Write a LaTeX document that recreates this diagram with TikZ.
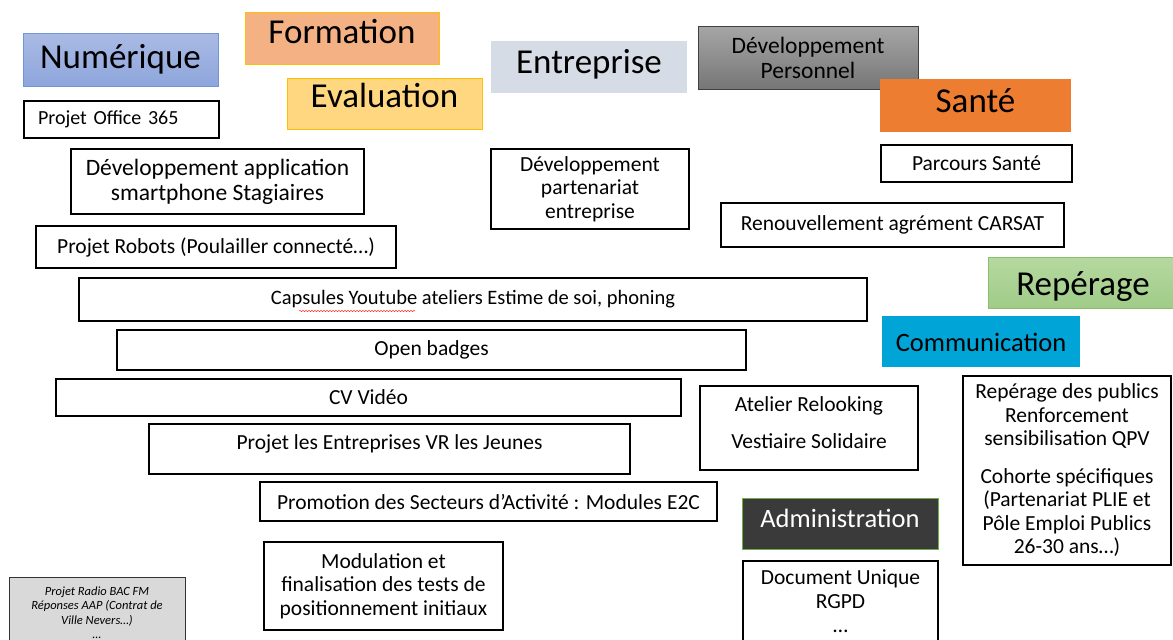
\documentclass[tikz,border=0pt]{standalone}
\usepackage{fontspec}
\setmainfont{Carlito}
\usetikzlibrary{decorations.pathmorphing}
\definecolor{bleuhaut}{RGB}{170,186,228}
\definecolor{bleubas}{RGB}{142,166,220}
\definecolor{bleubord}{RGB}{114,148,212}
\definecolor{saumon}{RGB}{244,177,131}
\definecolor{jaune}{RGB}{255,215,128}
\definecolor{orbord}{RGB}{255,192,0}
\definecolor{grisbleu}{RGB}{214,220,229}
\definecolor{grishaut}{RGB}{166,166,166}
\definecolor{grisbas}{RGB}{118,118,118}
\definecolor{orange}{RGB}{237,125,49}
\definecolor{verthaut}{RGB}{182,216,160}
\definecolor{vertbas}{RGB}{160,204,136}
\definecolor{vertbord}{RGB}{141,192,108}
\definecolor{cyan}{RGB}{0,164,214}
\definecolor{anthracite}{RGB}{58,58,58}
\definecolor{vertadmin}{RGB}{112,173,71}
\definecolor{grisclair}{RGB}{217,217,217}
\newcommand\fonttitre{\fontsize{35}{40}\selectfont}
\newcommand\fontmoyen{\fontsize{26.5}{30}\selectfont}
\newcommand\fontcorps{\fontsize{21.5}{23.5}\selectfont}
\newcommand\fontappli{\fontsize{23.5}{25}\selectfont}
\newcommand\fontpetit{\fontsize{12.5}{14.5}\selectfont}

\begin{document}
\begin{tikzpicture}[x=1pt,y=-1pt,
    titre/.style={inner sep=0pt, align=center, text=black, font=\fonttitre, text height=#1, text depth=12pt},
    titre/.default=24pt,
    boite/.style={draw=black, line width=1.3pt, fill=white, inner sep=2pt, align=center, font=\fontcorps}]
  \clip (0,0) rectangle (1173,640);
  \fill[white] (0,0) rectangle (1173,640);
  % categories
  \node[titre=29pt, top color=bleuhaut, bottom color=bleubas, draw=bleubord, line width=0.8pt, minimum width=195, minimum height=53] (num) at (120.5,59.5) {Numérique};
  \node[titre=22pt, fill=saumon, draw=orbord, line width=0.8pt, minimum width=194, minimum height=52] (form) at (342,38) {Formation};
  \node[titre=19pt, fill=jaune, draw=orbord, line width=0.8pt, minimum width=195, minimum height=51] (eval) at (384.5,103.5) {Evaluation};
  \node[titre=24pt, fill=grisbleu, minimum width=196, minimum height=52] (entr) at (589,67) {Entreprise};
  \node[inner sep=0pt, align=center, top color=grishaut, bottom color=grisbas, draw=black!75, line width=1pt, font=\fontappli, minimum width=220, minimum height=63] (perso) at (808,57.5) {Développement\\Personnel};
  \node[titre=25pt, fill=orange, minimum width=191, minimum height=53] (sante) at (975.5,105.5) {Santé};
  \node[titre=37pt, top color=verthaut, bottom color=vertbas, draw=vertbord, line width=0.8pt, minimum width=190, minimum height=51] (rep) at (1083,282.5) {Repérage};
  \node[titre=32pt, fill=cyan, font=\fontmoyen, minimum width=198, minimum height=51] (comm) at (981,341.5) {Communication};
  \node[titre=20pt, fill=anthracite, draw=vertadmin, line width=1pt, text=white, font=\fontmoyen, minimum width=196, minimum height=51] (admin) at (840,523.5) {Administration};
  % projets
  \node[boite, align=left, inner xsep=14pt, text width=167, minimum height=37, font=\fontsize{20}{22}\selectfont] (office) at (121.5,119.5) {Projet Office 365};
  \node[boite, font=\fontappli, minimum width=293, minimum height=65] (appli) at (217.5,181.5) {Développement application\\smartphone Stagiaires};
  \node[boite, minimum width=360, minimum height=42] (robots) at (216,247) {Projet Robots (Poulailler connecté…)};
  \node[boite, minimum width=788, minimum height=43, font=\fontsize{20.5}{23}\selectfont] (capsules) at (473,299.5) {Capsules Youtube ateliers Estime de soi, phoning};
  \node[boite, minimum width=629, minimum height=40] (badges) at (431.5,350) {Open badges};
  \node[boite, minimum width=625, minimum height=37] (cv) at (368.5,397.5) {CV Vidéo};
  \node[boite, minimum width=481, minimum height=50, text depth=14pt] (vr) at (389.5,449) {Projet les Entreprises VR les Jeunes};
  \node[boite, minimum width=457, minimum height=39] (e2c) at (488.5,501.5) {Promotion des Secteurs d’Activité : Modules E2C};
  \node[boite, minimum width=239, minimum height=88] (modul) at (383.5,586) {Modulation et\\finalisation des tests de\\positionnement initiaux};
  \node[boite, minimum width=198, minimum height=80] (part) at (590,189) {Développement\\partenariat\\entreprise};
  \node[boite, minimum width=191, minimum height=37] (parcours) at (976.5,163.5) {Parcours Santé};
  \node[boite, minimum width=343, minimum height=44] (carsat) at (892.5,225) {Renouvellement agrément CARSAT};
  \node[boite, minimum width=218, minimum height=84] (relook) at (809,428) {Atelier Relooking\\[14pt]Vestiaire Solidaire\\[-13pt]\mbox{}};
  \node[boite, minimum width=208, minimum height=189] (publics) at (1067,470.5) {Repérage des publics\\Renforcement\\sensibilisation QPV\\[14pt]Cohorte spécifiques\\(Partenariat PLIE et\\Pôle Emploi Publics\\26-30 ans…)};
  % boites coupees en bas
  \draw[line width=1.3pt, fill=white] (743,561) rectangle (938,670);
  \node[boite, draw=none, fill=none, anchor=north, inner ysep=8pt, minimum width=195, font=\fontsize{21.5}{24}\selectfont] (docu) at (840.5,561) {Document Unique\\RGPD\\…};
  \draw[line width=1pt, draw=black!80, fill=grisclair] (9,577) rectangle (185,670);
  \node[boite, draw=none, fill=none, anchor=north, inner ysep=9pt, minimum width=176, font=\fontpetit\itshape] (radio) at (97,577) {Projet Radio BAC FM\\Réponses AAP (Contrat de\\Ville Nevers…)\\…};
  % soulignement du correcteur
  \draw[red!80, line width=0.5pt, decorate, decoration={snake, segment length=3pt, amplitude=0.7pt}] (299,311) -- (415,311);
\end{tikzpicture}
\end{document}
